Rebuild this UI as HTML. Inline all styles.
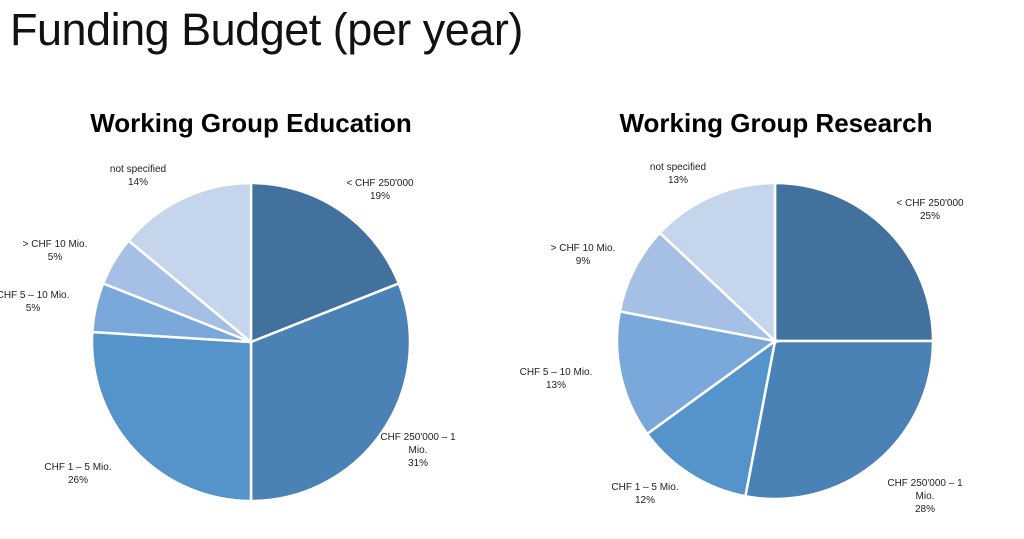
<!DOCTYPE html>
<html><head><meta charset="utf-8"><style>
body{margin:0;width:1024px;height:539px;background:#fff;overflow:hidden;font-family:"Liberation Sans",sans-serif}
#t{position:absolute;left:10px;top:4px;font-size:45px;color:#111;letter-spacing:-0.5px}
svg{position:absolute;left:0;top:0}
</style></head><body>
<div id="t">Funding Budget (per year)</div>
<svg id="s" width="1024" height="539"></svg>
<script>
const categories=["< CHF 250'000","CHF 250'000 – 1 Mio.","CHF 1 – 5 Mio.","CHF 5 – 10 Mio.","> CHF 10 Mio.","not specified"];
const educationValues=[19,31,26,5,5,14];
const researchValues=[25,28,12,13,9,13];
const colors=["#41719c","#4a82b5","#5593cb","#7aa8da","#a5c0e4","#c5d5eb"];
const NS="http://www.w3.org/2000/svg",svg=document.getElementById('s');
function mk(t,a,p){const e=document.createElementNS(NS,t);for(const k in a)e.setAttribute(k,a[k]);(p||svg).appendChild(e);return e;}
const eduLabels=[[380,186],[418,440],[78,470],[33,298],[55,247],[138,172]];
const resLabels=[[930,206],[925,486],[645,490],[556,375],[583,251],[678,170]];
function pie(vals,cx,cy,r,title,tx,labels,name){
  const g=mk('g',{});
  const tt=mk('text',{x:tx,y:132,'text-anchor':'middle','font-size':26,'font-weight':'bold',fill:'#000'},g);tt.textContent=title;
  
  const tot=vals.reduce((a,b)=>a+b,0);let a0=0;
  vals.forEach((v,i)=>{
    const a1=a0+v/tot*2*Math.PI;
    const x0=cx+r*Math.sin(a0),y0=cy-r*Math.cos(a0),x1=cx+r*Math.sin(a1),y1=cy-r*Math.cos(a1);
    const p=mk('path',{d:`M${cx},${cy}L${x0},${y0}A${r},${r} 0 ${a1-a0>Math.PI?1:0} 1 ${x1},${y1}Z`,fill:colors[i],stroke:'#fff','stroke-width':2.5},g);
    
    a0=a1;
    const [lx,ly]=labels[i];
    const lt=mk('text',{'font-size':10,fill:'#222','text-anchor':'middle'},g);
    
    let lines;
    if(i==1)lines=["CHF 250'000 – 1","Mio.",v+"%"];else lines=[categories[i],v+"%"];
    lines.forEach((s,j)=>{const ts=mk('tspan',{x:lx,y:ly+j*13},lt);ts.textContent=s;});
  });
}
pie(educationValues,251,342,159,"Working Group Education",251,eduLabels,'education-pie');
pie(researchValues,775,341,158,"Working Group Research",776,resLabels,'research-pie');
</script>
</body></html>
